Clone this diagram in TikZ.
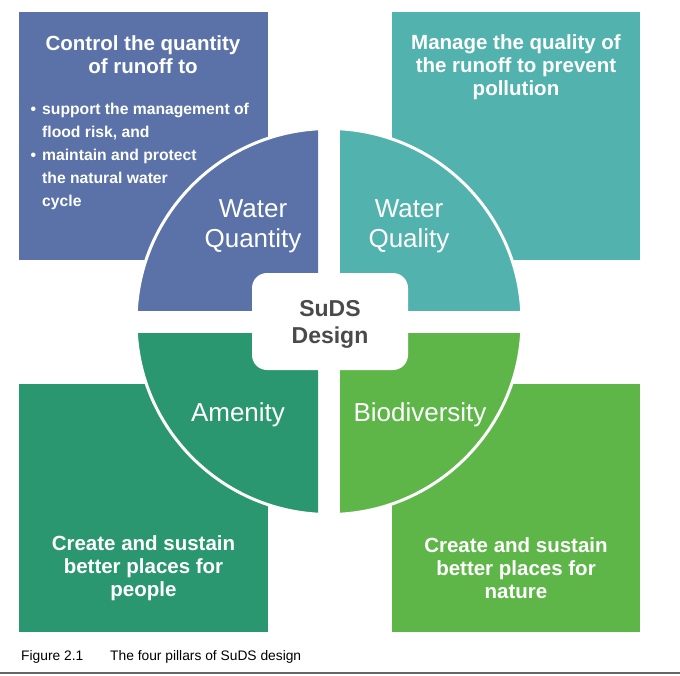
\documentclass[tikz,border=0pt]{standalone}
\usepackage{fontspec}
\setmainfont{Liberation Sans}
\definecolor{qtyblue}{HTML}{5A72A8}
\definecolor{qlyteal}{HTML}{52B2AE}
\definecolor{amgreen}{HTML}{2A9770}
\definecolor{biogreen}{HTML}{5DB647}
\definecolor{sudsgray}{HTML}{4A4A4A}

\begin{document}
\begin{tikzpicture}[x=1pt,y=-1pt,
  boxtext/.style={text=white,font=\bfseries\fontsize{20.5}{23}\selectfont,align=center,inner sep=0pt},
  pillar/.style={text=white,font=\fontsize{26}{30}\selectfont,align=center,inner sep=0pt},
  caption/.style={anchor=base west,font=\fontsize{13.8}{16}\selectfont,inner sep=0pt}]
\useasboundingbox (0,0) rectangle (680,675);

% outer boxes
\fill[qtyblue] (19,12) rectangle (268,260);
\fill[qlyteal] (392,12) rectangle (640,260);
\fill[amgreen] (19,384) rectangle (268,632);
\fill[biogreen] (392,384) rectangle (640,632);

% quarters of the circle
\begin{scope}
\clip (0,0) rectangle (318,310);
\fill[qtyblue] (329,321.5) circle(193);
\end{scope}
\begin{scope}
\clip (340,0) rectangle (680,310);
\fill[qlyteal] (329,321.5) circle(193);
\end{scope}
\begin{scope}
\clip (0,333) rectangle (318,675);
\fill[amgreen] (329,321.5) circle(193);
\end{scope}
\begin{scope}
\clip (340,333) rectangle (680,675);
\fill[biogreen] (329,321.5) circle(193);
\end{scope}
\draw[white,line width=3pt] (329,321.5) circle(193);

\node[fill=white,rounded corners=15pt,minimum width=156pt,minimum height=97pt,inner sep=0pt] (suds) at (330,321.5) {};
\node[text=sudsgray,font=\bfseries\fontsize{23}{27}\selectfont,align=center,inner sep=0pt] (sudslabel) at (330,324) {SuDS\\Design};

\node[pillar] (quantity) at (253,226) {Water\\Quantity};
\node[pillar] (quality) at (409,226) {Water\\Quality};
\node[pillar] (amenity) at (238,415) {Amenity};
\node[pillar] (biodiv) at (420,415) {Biodiversity};

\node[boxtext] (quantitytext) at (143,55) {Control the quantity\\of runoff to};
\node[boxtext,anchor=west,align=left,font=\bfseries\fontsize{15.7}{23}\selectfont] (quantitylist) at (42,156)
  {\llap{\textbullet\hspace{6pt}}support the management of\\flood risk, and\\
   \llap{\textbullet\hspace{6pt}}maintain and protect\\the natural water\\cycle};
\node[boxtext] (qualitytext) at (516,67) {Manage the quality of\\the runoff to prevent\\pollution};
\node[boxtext] (amenitytext) at (143.5,568) {Create and sustain\\better places for\\people};
\node[boxtext] (biodivtext) at (516,568) {Create and sustain\\better places for\\nature};

% caption
\node[caption] (fignum) at (21,660) {Figure 2.1};
\node[caption] (figtitle) at (110,660) {The four pillars of SuDS design};
\draw[gray!80!black,line width=1.5pt] (0,673) -- (680,673);
\end{tikzpicture}
\end{document}
